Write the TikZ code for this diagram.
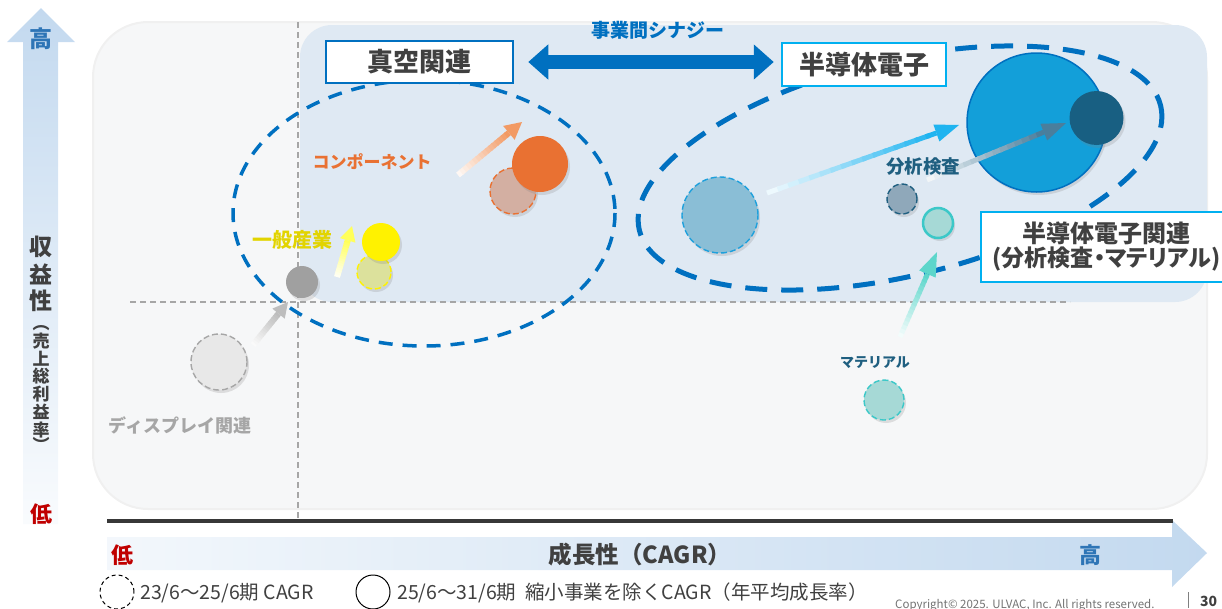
\documentclass[tikz,border=0pt]{standalone}
\usepackage{fontspec}
\setmainfont{Noto Sans CJK JP}
\usetikzlibrary{arrows.meta,calc,shadows}
\definecolor{bgGray}{HTML}{F6F7F8}
\definecolor{bgBlue}{HTML}{DFE9F3}
\definecolor{mainBlue}{HTML}{0070C0}
\definecolor{cyanB}{HTML}{00B0F0}
\definecolor{txtDark}{HTML}{404040}
\definecolor{lowRed}{HTML}{C00000}
\definecolor{hiBlue}{HTML}{2E75B6}
\definecolor{axisLight}{HTML}{C3D9EF}
\definecolor{navyC}{HTML}{185F82}
\definecolor{bigBlue}{HTML}{139FD9}
\definecolor{paleBlue}{HTML}{8ABED6}
\definecolor{paleBlueLine}{HTML}{1EA0DC}
\definecolor{steelFill}{HTML}{8FA8BA}
\definecolor{tealLine}{HTML}{3CC8C8}
\definecolor{tealFill}{HTML}{A6D9D6}
\definecolor{orangeC}{HTML}{E97132}
\definecolor{orangeOld}{HTML}{D3AFA2}
\definecolor{yellowOld}{HTML}{DCE19C}
\definecolor{grayC}{HTML}{A0A0A0}
\definecolor{grayOld}{HTML}{E8E8E8}
\definecolor{grayLine}{HTML}{A6A6A6}
\definecolor{yellowTxt}{HTML}{E2D400}
\definecolor{labelBlue}{HTML}{1F5F80}
\definecolor{arrGray}{HTML}{BDBDBD}
\definecolor{arrYellow}{HTML}{FFFF5A}
\definecolor{arrOrange}{HTML}{F29A64}
\definecolor{arrCyan}{HTML}{1FB4F0}
\definecolor{arrSteel}{HTML}{4A7E9C}
\definecolor{arrTeal}{HTML}{5DD6CB}

% gradient arrow: #1 from, #2 to, #3 colour, #4 width, #5 head length, #6 half head width
\newcommand\garrow[6]{%
  \coordinate (gP) at ($(#2)!#5!(#1)$);
  \foreach \k in {0,...,15}{%
    \pgfmathsetmacro\gA{\k/16}%
    \pgfmathsetmacro\gB{min((\k+1.3)/16,1)}%
    \pgfmathtruncatemacro\gC{8+\k*92/15}%
    \draw[line width=#4, draw=#3!\gC!white] ($(#1)!\gA!(gP)$) -- ($(#1)!\gB!(gP)$);
  }%
  \fill[#3] (#2) -- ($(gP)!#6!90:(#2)$) -- ($(gP)!#6!-90:(#2)$) -- cycle;
}

\begin{document}
\begin{tikzpicture}[x=1pt,y=-1pt,
  circ/.style={circle, inner sep=0pt, drop shadow={opacity=0.22, shadow xshift=2pt, shadow yshift=-3pt}},
  oldc/.style={circ, line width=1.4pt, dash pattern=on 6pt off 3pt},
  newc/.style={circ},
  lbl/.style={inner sep=0pt, font=\bfseries\fontsize{#1}{#1}\selectfont},
  boxn/.style={draw, fill=white, line width=2.5pt, inner sep=0pt, text=txtDark},
  grid/.style={draw=grayLine, line width=1.4pt, dash pattern=on 6pt off 4pt},
  legt/.style={inner sep=0pt, anchor=west, text=txtDark, font=\fontsize{19.5}{19.5}\selectfont}
]
\useasboundingbox (0,0) rectangle (1222,608);

% backgrounds
\fill[bgGray, draw=gray!12, line width=2pt, rounded corners=55pt] (93,22) rectangle (1207,509);
\fill[bgBlue, rounded corners=32pt] (300,25) rectangle (1207,302);

% dashed quadrant lines
\draw[grid] (298,22) -- (298,518);
\draw[grid] (130,302) -- (1070,302);

% vertical axis arrow
\shade[top color=axisLight, bottom color=white!90!axisLight]
  (23,524) -- (23,42) -- (7,42) -- (41,8) -- (75,42) -- (58,42) -- (58,524) -- cycle;
\node[lbl=23, text=hiBlue] (vHi) at (41,39) {高};
\foreach \c/\yy [count=\n] in {収/247,益/274,性/301}
  \node[lbl=23, text=txtDark] (vT\n) at (41,\yy) {\c};
\foreach \c/\yy [count=\n] in {︵/328,売/341,上/359,総/376,利/394,益/412,率/430,︶/444}
  \node[lbl=17, text=txtDark] (vS\n) at (41,\yy) {\c};
\node[lbl=22, text=lowRed] (vLo) at (41,514) {低};

% horizontal axis
\shade[left color=white!80!axisLight, right color=axisLight]
  (107,537) -- (1172,537) -- (1172,520) -- (1207,553) -- (1172,587) -- (1172,570) -- (107,570) -- cycle;
\draw[line width=4pt, color=black!78] (107,521) -- (1173,521);
\node[lbl=22, text=lowRed] (hLo) at (122,555) {低};
\node[lbl=23.5, text=txtDark] (hT) at (640,555) {成長性（CAGR）};
\node[lbl=22, text=hiBlue] (hHi) at (1090,555) {高};

% dashed ellipses
\draw[mainBlue, line width=3.5pt, dash pattern=on 14pt off 10pt] (424,213) ellipse [x radius=191, y radius=133];
\draw[mainBlue, line width=5pt, dash pattern=on 22pt off 14pt, rotate around={13.4:(900,168)}] (900,168) ellipse [x radius=268, y radius=108];

% circles
\node[newc, fill=bigBlue, draw=mainBlue, line width=1.5pt, minimum size=139pt] (semiNew) at (1036.5,122.5) {};
\node[newc, fill=navyC, minimum size=54pt] (anaNew) at (1096.5,118) {};
\node[oldc, fill=paleBlue, draw=paleBlueLine, minimum size=76pt] (semiOld) at (720,215) {};
\node[oldc, fill=steelFill, draw=labelBlue, minimum size=30pt] (anaOld) at (902,199) {};
\node[newc, fill=tealFill, draw=tealLine, line width=2.5pt, minimum size=30pt] (matNew) at (938,223) {};
\node[oldc, fill=tealFill, draw=tealLine, minimum size=40pt] (matOld) at (884,400) {};
\node[oldc, fill=orangeOld, draw=orangeC, minimum size=46pt] (compOld) at (513,191) {};
\node[newc, fill=orangeC, minimum size=56pt] (compNew) at (540,164) {};
\node[oldc, fill=yellowOld, draw=yellow, minimum size=34pt] (indOld) at (374,272) {};
\node[newc, fill=yellow, minimum size=38pt] (indNew) at (381,242) {};
\node[newc, fill=grayC, minimum size=32pt] (dispNew) at (302,282) {};
\node[oldc, fill=grayOld, draw=grayLine, minimum size=56pt] (dispOld) at (219,362) {};

% gradient arrows
\coordinate (gS1) at (253,345); \coordinate (gE1) at (288,302);
\coordinate (gS2) at (337,277); \coordinate (gE2) at (352,226);
\coordinate (gS3) at (458,175); \coordinate (gE3) at (522,122);
\coordinate (gS4) at (767,193); \coordinate (gE4) at (959,125);
\coordinate (gS5) at (927,180); \coordinate (gE5) at (1066,123);
\coordinate (gS6) at (900,337); \coordinate (gE6) at (937,252);
\garrow{gS1}{gE1}{arrGray}{6pt}{15pt}{8pt}
\garrow{gS2}{gE2}{arrYellow}{6pt}{15pt}{8pt}
\garrow{gS3}{gE3}{arrOrange}{6pt}{17pt}{9pt}
\garrow{gS4}{gE4}{arrCyan}{5pt}{24pt}{9pt}
\garrow{gS5}{gE5}{arrSteel}{5pt}{24pt}{9pt}
\garrow{gS6}{gE6}{arrTeal}{5pt}{24pt}{9pt}

% labels
\node[lbl=17, text=orangeC] (tComp) at (372,162) {コンポーネント};
\node[lbl=20, text=yellowTxt] (tInd) at (292,240) {一般産業};
\node[lbl=18.5, text=labelBlue] (tAna) at (923,167) {分析検査};
\node[lbl=14, text=labelBlue] (tMat) at (875,363) {マテリアル};
\node[lbl=18, text=grayLine] (tDisp) at (180,425) {ディスプレイ関連};
\node[lbl=19, text=mainBlue] (tSyn) at (658,30) {事業間シナジー};

% boxes
\node[boxn, draw=mainBlue, minimum width=187pt, minimum height=42pt, lbl=26] (vac) at (419.5,62) {真空関連};
\node[boxn, draw=cyanB, minimum width=164pt, minimum height=43pt, lbl=26] (semi) at (864,64.5) {半導体電子};
\node[boxn, draw=cyanB, minimum width=251pt, minimum height=70pt, align=center, lbl=24] (semiRel) at (1106.5,247)
  {\fontsize{24}{30}\selectfont 半導体電子関連\\\fontsize{23}{30}\selectfont\addfontfeatures{RawFeature=+palt}(分析検査・マテリアル)};
\draw[mainBlue, line width=14pt, {Triangle[length=20pt,width=34pt]}-{Triangle[length=20pt,width=34pt]}, shorten <=14pt, shorten >=7pt]
  (vac.east) -- (vac.east -| semi.west);

% legend
\node[circle, draw=black, line width=1pt, dash pattern=on 4pt off 3pt, minimum size=34pt, inner sep=0pt] (legOld) at (117,592) {};
\node[legt] (legOldT) at (140,593) {23/6～25/6期 CAGR};
\node[circle, draw=black, line width=1pt, minimum size=34pt, inner sep=0pt] (legNew) at (373,592) {};
\node[legt] (legNewT) at (397,593) {25/6～31/6期\ \ 縮小事業を除くCAGR（年平均成長率）};

% footer
\node[inner sep=0pt, anchor=base west, text=black!55, font=\fontsize{11.5}{11.5}\selectfont] (copy) at (895,608) {Copyright© 2025. ULVAC, Inc. All rights reserved.};
\draw[black!50, line width=0.8pt] (1188,592) -- (1188,608);
\node[inner sep=0pt, anchor=base west, text=txtDark, font=\bfseries\fontsize{14}{14}\selectfont] (pg) at (1200,606) {30};
\end{tikzpicture}
\end{document}
